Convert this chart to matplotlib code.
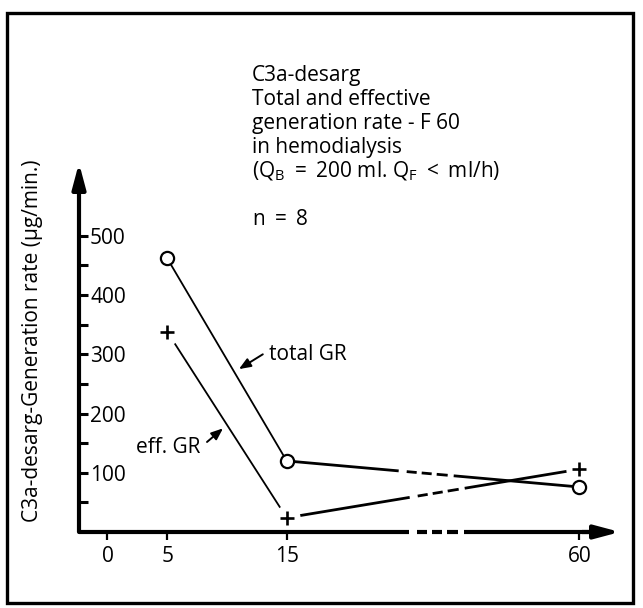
import numpy as np
import matplotlib.pyplot as plt
from matplotlib.patches import Rectangle

plt.rcParams['font.family'] = ['Open Sans', 'DejaVu Sans']
plt.rcParams['mathtext.fontset'] = 'custom'
plt.rcParams['mathtext.rm'] = 'Open Sans'
plt.rcParams['lines.scale_dashes'] = False

# data
time_min = [5, 15, 60]
total_gr = [462, 120, 76]
eff_gr = [338, 24, 106]

x_ticks = [0, 5, 15, 60]
x_tick_labels = ['0', '5', '15', '60']
y_major = [100, 200, 300, 400, 500]
y_minor = [50, 150, 250, 350, 450]

title_lines = ['C3a-desarg',
               'Total and effective',
               'generation rate - F 60',
               'in hemodialysis',
               r'(Q$_\mathregular{B}$ $=$ 200 ml. Q$_\mathregular{F}$ $<$ ml/h)']
n_text = r'n $=$ 8'
ylabel = 'C3a-desarg-Generation rate (µg/min.)'

# broken time axis: everything after 15 min is squeezed
K = 24.5 / 45


def fwd(x):
    x = np.asarray(x, dtype=float)
    return np.where(x <= 15, x, 15 + (x - 15) * K)


def inv(x):
    x = np.asarray(x, dtype=float)
    return np.where(x <= 15, x, 15 + (x - 15) / K)


W, H = 643, 608
DPI = 100
fig = plt.figure(figsize=(W / DPI, H / DPI), dpi=DPI)


def fx(px):
    return px / W


def fy(py):
    return 1 - py / H


ax = fig.add_axes([fx(79), fy(532), fx(620) - fx(79), fy(163) - fy(532)])
ax.set_xscale('function', functions=(fwd, inv))
ax.set_xlim(-2.385, float(inv(42.9)))
ax.set_ylim(0, 623)
for s in ax.spines.values():
    s.set_visible(False)

# gap pattern of the break (pixels along x): gap, dash, gap, dash, gap, dash, gap
BREAK = [8, 10, 5, 10, 5, 11, 6]
PT = 72 / DPI


def broken_line(ax, x0, y0, x1, y1, solid_px, lw):
    p0 = ax.transData.transform((x0, y0))
    p1 = ax.transData.transform((x1, y1))
    dx = p1[0] - p0[0]
    f = np.hypot(p1[0] - p0[0], p1[1] - p0[1]) / dx
    pat = [solid_px] + BREAK + [3000]
    ax.plot([x0, x1], [y0, y1], color='black', lw=lw, zorder=2,
            dashes=[v * f * PT for v in pat], dash_capstyle='butt',
            solid_capstyle='butt')


# total GR
ax.plot(time_min[:2], total_gr[:2], color='black', lw=1.3, zorder=2)
broken_line(ax, time_min[1], total_gr[1], time_min[2], total_gr[2], 112, 2.0)
# eff GR
ax.plot(time_min[:2], eff_gr[:2], color='black', lw=1.3, zorder=2)
broken_line(ax, time_min[1], eff_gr[1], time_min[2], eff_gr[2], 123, 2.0)

# white halo so the lines stop short of the crosses
ax.plot(time_min, eff_gr, ls='none', marker='o', ms=19, mfc='white',
        mec='none', zorder=3)
ax.plot(time_min, eff_gr, ls='none', marker='+', ms=10.5, mew=1.9,
        color='black', zorder=4)
ax.plot(time_min, total_gr, ls='none', marker='o', ms=9.5, mew=1.6,
        mfc='white', mec='black', zorder=4)

# axes with arrows
ax.annotate('', xy=(0, 1), xytext=(0, 0), xycoords='axes fraction',
            arrowprops=dict(arrowstyle='-|>,head_length=0.75,head_width=0.2',
                            mutation_scale=20, lw=3.0, color='black',
                            shrinkA=0, shrinkB=0), zorder=6)
ax.plot([0, 0.97], [0, 0], transform=ax.transAxes, color='black', lw=3.0,
        clip_on=False, zorder=6, dash_capstyle='butt',
        dashes=[v * PT for v in [330] + BREAK + [3000]])
ax.annotate('', xy=(1, 0), xytext=(0.93, 0), xycoords='axes fraction',
            arrowprops=dict(arrowstyle='-|>,head_length=0.75,head_width=0.2',
                            mutation_scale=20, lw=3.0, color='black',
                            shrinkA=0, shrinkB=0), zorder=6)

ax.set_xticks(x_ticks)
ax.set_xticklabels(x_tick_labels)
ax.tick_params(axis='x', direction='out', length=8 * PT, width=1.6, pad=4,
               labelsize=15)
ax.set_yticks(y_major)
ax.set_yticks(y_minor, minor=True)
ax.tick_params(axis='y', which='both', direction='in', length=9 * PT,
               width=2.2, pad=-8, labelsize=15)
for t in ax.yaxis.get_major_ticks():
    t.label1.set_horizontalalignment('left')

# labels for the two curves
ax.annotate('', xy=(11.0, 275), xytext=(13.0, 300),
            arrowprops=dict(arrowstyle='-|>,head_length=0.5,head_width=0.2',
                            mutation_scale=14, lw=1.4, color='black',
                            shrinkA=0, shrinkB=0))
ax.text(13.5, 290, 'total GR', fontsize=15, ha='left', va='baseline')
ax.annotate('', xy=(9.67, 175), xytext=(8.33, 152),
            arrowprops=dict(arrowstyle='-|>,head_length=0.5,head_width=0.2',
                            mutation_scale=14, lw=1.4, color='black',
                            shrinkA=0, shrinkB=0))
ax.text(7.74, 133, 'eff. GR', fontsize=15, ha='right', va='baseline')

# title block
for i, line in enumerate(title_lines):
    fig.text(fx(252), fy(81 + i * 24), line, fontsize=15, ha='left',
             va='baseline')
fig.text(fx(252), fy(225), n_text, fontsize=15, ha='left', va='baseline')

fig.text(fx(33), fy(341), ylabel, fontsize=15, rotation=90, ha='center',
         va='center')

# frame around the whole figure
fig.patches.append(Rectangle((fx(7), fy(603)), fx(633) - fx(7),
                             fy(13) - fy(603), transform=fig.transFigure,
                             fill=False, lw=2.4, ec='black'))

fig.savefig('out.png', dpi=DPI)
